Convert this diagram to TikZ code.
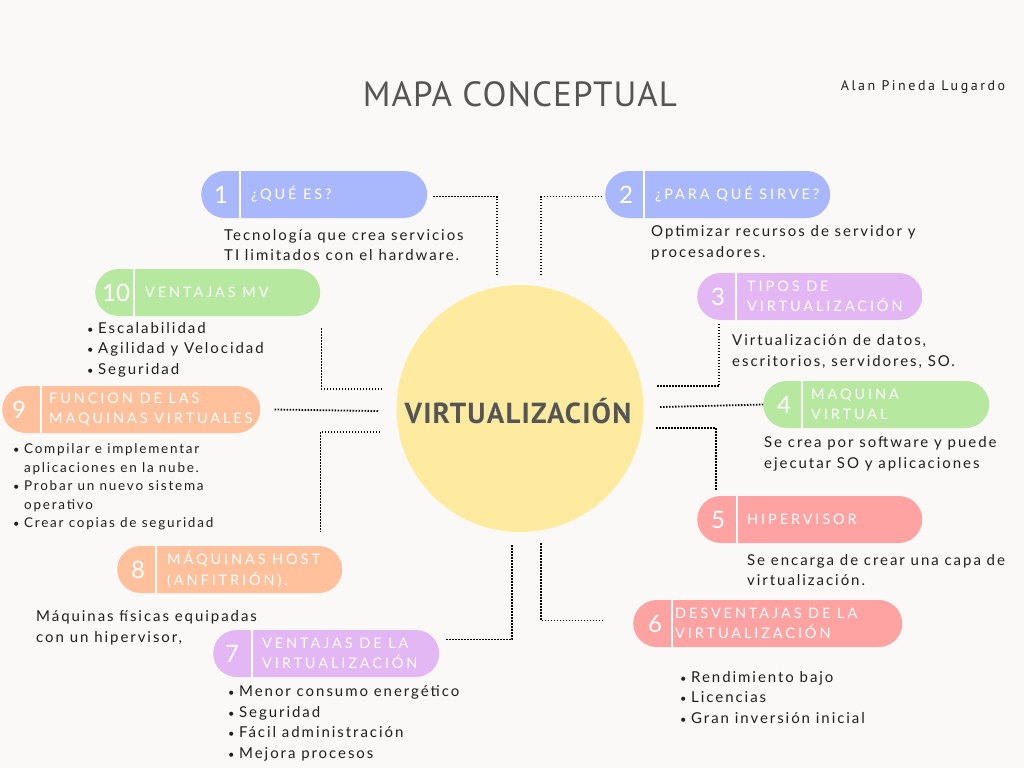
\documentclass[tikz,border=0pt]{standalone}
\usepackage{fontspec}
\setmainfont{Lato}
\newfontfamily\bodyf[LetterSpace=13]{Lato}
\newfontfamily\pillf[LetterSpace=20]{Lato}
\newfontfamily\numf{Lato}
\newfontfamily\titlef[LetterSpace=3]{PT Sans}
\newfontfamily\authf[LetterSpace=18]{PT Sans}
\newfontfamily\centf[LetterSpace=4]{PT Sans}
\definecolor{bg}{HTML}{FAF9F8}
\definecolor{cblue}{HTML}{A9B8FD}
\definecolor{cgreen}{HTML}{B7E8A0}
\definecolor{cpurple}{HTML}{E2B7F3}
\definecolor{corange}{HTML}{FFC09B}
\definecolor{cred}{HTML}{FFA2A2}
\definecolor{cyellow}{HTML}{FFEB9F}
\definecolor{tgrey}{HTML}{555555}
\definecolor{tblack}{HTML}{1F1F1F}
\tikzset{
  pill/.style={fill=#1, rounded corners=23.5pt, minimum height=47pt, inner sep=0pt, anchor=west},
  divider/.style={white, line width=1.6pt},
  numtxt/.style={text=white, font=\numf\fontsize{24}{24}\selectfont, inner sep=0pt},
  pilltxt/.style={text=white, font=\pillf\fontsize{14.5}{20.5}\selectfont, inner sep=0pt, anchor=west, align=left},
  bodytxt/.style={text=tblack, font=\bodyf\fontsize{15}{20.5}\selectfont, inner sep=0pt, anchor=west, align=left},
  smalltxt/.style={text=tblack, font=\bodyf\fontsize{13.5}{18.6}\selectfont, inner sep=0pt, anchor=west, align=left},
  conn/.style={black, line width=1.8pt, dash pattern=on 1.5pt off 1.5pt},
}
\newcommand{\bul}{\makebox[11pt][l]{\fontsize{11}{11}\selectfont•}}
\begin{document}
\begin{tikzpicture}[x=1pt,y=-1pt]
\useasboundingbox (0,0) rectangle (1024,768);
\fill[bg] (0,0) rectangle (1024,768);

% title
\node[text=tgrey, font=\titlef\fontsize{35}{35}\selectfont, inner sep=0pt] (title) at (520,94) {MAPA CONCEPTUAL};
\node[text=tblack, font=\authf\fontsize{14}{14}\selectfont, inner sep=0pt] (author) at (923,87) {Alan Pineda Lugardo};

% center
\node[circle, fill=cyellow, minimum size=247pt, inner sep=0pt] (c) at (520,408.5) {};
\node[text=tgrey, font=\centf\bfseries\fontsize{29}{29}\selectfont, inner sep=0pt] (ctext) at (518,411) {VIRTUALIZACIÓN};

% pills
\node[pill=cblue, minimum width=226pt] (p1) at (201,194.5) {};
\node[pill=cblue, minimum width=225pt] (p2) at (605,194.5) {};
\node[pill=cpurple, minimum width=225pt] (p3) at (697,296.5) {};
\node[pill=cgreen, minimum width=226pt] (p4) at (763,404.5) {};
\node[pill=cred, minimum width=225pt] (p5) at (697,519.5) {};
\node[pill=cred, minimum width=269pt] (p6) at (633,623.5) {};
\node[pill=cpurple, minimum width=226pt] (p7) at (213,653.5) {};
\node[pill=corange, minimum width=225pt] (p8) at (117,569.5) {};
\node[pill=corange, minimum width=258pt] (p9) at (2,409.5) {};
\node[pill=cgreen, minimum width=225pt] (p10) at (95,292.5) {};

% dividers
\foreach \p/\d in {p1/39, p2/39, p3/39, p4/39, p5/40, p6/39, p7/39, p8/39, p9/39, p10/39}{
  \draw[divider] ([xshift=\d pt]\p.north west) -- ([xshift=\d pt]\p.south west);
}

% numbers
\node[numtxt] (n1) at ([xshift=20pt]p1.west) {1};
\node[numtxt] (n2) at ([xshift=21pt]p2.west) {2};
\node[numtxt] (n3) at ([xshift=21pt]p3.west) {3};
\node[numtxt] (n4) at ([xshift=21pt]p4.west) {4};
\node[numtxt] (n5) at ([xshift=21pt]p5.west) {5};
\node[numtxt] (n6) at ([xshift=22pt]p6.west) {6};
\node[numtxt] (n7) at ([xshift=19pt]p7.west) {7};
\node[numtxt] (n8) at ([xshift=21pt]p8.west) {8};
\node[numtxt] (n9) at ([xshift=17pt]p9.west) {9};
\node[numtxt] (n10) at ([xshift=21pt]p10.west) {10};

% pill labels
\node[pilltxt] (l1) at ([xshift=50pt]p1.west) {¿QUÉ ES?};
\node[pilltxt] (l2) at ([xshift=50pt]p2.west) {¿PARA QUÉ SIRVE?};
\node[pilltxt] (l3) at ([xshift=50pt]p3.west) {TIPOS DE\\VIRTUALIZACIÓN};
\node[pilltxt] (l4) at ([xshift=48pt]p4.west) {MAQUINA\\VIRTUAL};
\node[pilltxt] (l5) at ([xshift=50pt]p5.west) {HIPERVISOR};
\node[pilltxt] (l6) at ([xshift=42pt]p6.west) {DESVENTAJAS DE LA\\VIRTUALIZACIÓN};
\node[pilltxt] (l7) at ([xshift=49pt]p7.west) {VENTAJAS DE LA\\VIRTUALIZACIÓN};
\node[pilltxt] (l8) at ([xshift=50pt]p8.west) {MÁQUINAS HOST\\(ANFITRIÓN).};
\node[pilltxt] (l9) at ([xshift=47pt]p9.west) {FUNCION DE LAS\\MAQUINAS VIRTUALES};
\node[pilltxt] (l10) at ([xshift=50pt]p10.west) {VENTAJAS MV};

% body texts
\node[bodytxt] (t1) at (224,245) {Tecnología que crea servicios\\TI limitados con el hardware.};
\node[bodytxt] (t2) at (651,243) {Optimizar recursos de servidor y\\procesadores.};
\node[bodytxt] (t3) at (732,351.5) {Virtualización de datos,\\escritorios, servidores, SO.};
\node[bodytxt] (t4) at (764,454) {Se crea por software y puede\\ejecutar SO y aplicaciones};
\node[bodytxt] (t5) at (747,570) {Se encarga de crear una capa de\\virtualización.};
\node[bodytxt] (t6) at (680,697.5) {\bul Rendimiento bajo\\\bul Licencias\\\bul Gran inversión inicial};
\node[bodytxt] (t7) at (228,723.5) {\bul Menor consumo energético\\\bul Seguridad\\\bul Fácil administración\\\bul Mejora procesos};
\node[bodytxt] (t8) at (36,628) {Máquinas físicas equipadas\\con un hipervisor,};
\node[smalltxt] (t9) at (13,487) {\bul Compilar e implementar\\\hspace*{11pt}aplicaciones en la nube.\\\bul Probar un nuevo sistema\\\hspace*{11pt}operativo\\\bul Crear copias de seguridad};
\node[bodytxt] (t10) at (87,349.5) {\bul Escalabilidad\\\bul Agilidad y Velocidad\\\bul Seguridad};

% connector ends near the centre
\coordinate (c1) at (497,275);
\coordinate (c2) at (541,275);
\coordinate (c3) at (657,386);
\coordinate (c4) at (660,407);
\coordinate (c5) at (656,428);
\coordinate (c6) at (541,543);
\coordinate (c7) at (512,545);
\coordinate (c8) at (380,432);
\coordinate (c9) at (378,411);
\coordinate (c10) at (382,389);

% connectors
\draw[conn] ([shift={(6pt,-2pt)}]p1.east) -| (c1);
\draw[conn] (c2) |- ([shift={(-2pt,-2pt)}]p2.west);
\draw[conn] (c3) -| ([shift={(22pt,-2pt)}]p3.south west);
\draw[conn] (c4) -- (p4.west);
\draw[conn] (c5) -| ([shift={(19pt,6pt)}]p5.north west);
\draw[conn] (c6) |- ([shift={(-29pt,3pt)}]p6.west);
\draw[conn] (c7) |- ([shift={(7pt,14pt)}]p7.east);
\draw[conn] (c8) -| ([shift={(-22pt,14pt)}]p8.north east);
\draw[conn] (c9) -- ([xshift=13pt]p9.east);
\draw[conn] (c10) -| ([shift={(1pt,-11pt)}]p10.south east);
\end{tikzpicture}
\end{document}
